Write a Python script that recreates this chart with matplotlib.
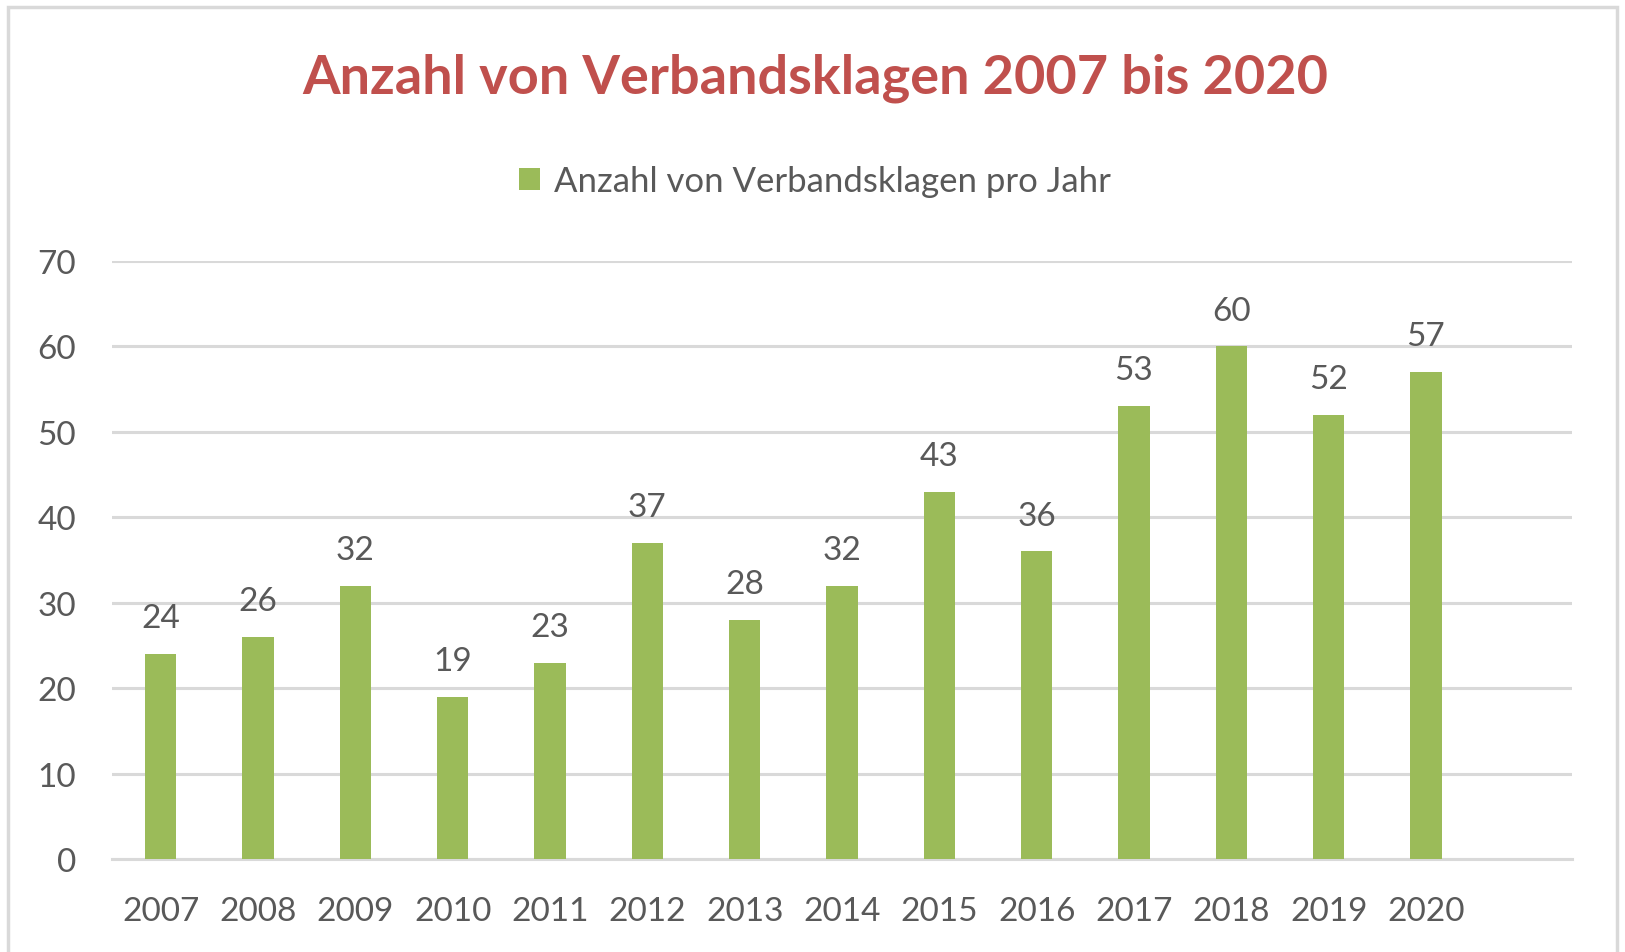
import matplotlib
matplotlib.use("Agg")
import matplotlib.pyplot as plt
from matplotlib.patches import Rectangle

# Data
years = ["2007", "2008", "2009", "2010", "2011", "2012", "2013",
         "2014", "2015", "2016", "2017", "2018", "2019", "2020"]
klagen = [24, 26, 32, 19, 23, 37, 28, 32, 43, 36, 53, 60, 52, 57]
y_ticks = [0, 10, 20, 30, 40, 50, 60, 70]

title = "Anzahl von Verbandsklagen 2007 bis 2020"
series_name = "Anzahl von Verbandsklagen pro Jahr"

GREEN = "#9BBB59"
RED = "#C0504D"
TEXT = "#595959"
GRID = "#D9D9D9"

plt.rcParams["font.family"] = ["Lato", "DejaVu Sans"]

fig = plt.figure(figsize=(16.25, 9.53), dpi=100)
W, H = 1625, 953

# outer chart frame
fig.add_artist(Rectangle((8 / W, -0.01), (1617 - 8) / W, 1.01 - 8 / H,
                         transform=fig.transFigure, fill=False,
                         edgecolor="#D9D9D9", linewidth=2.5))

ax = fig.add_axes([112 / W, 1 - 860 / H, (1572 - 112) / W, (860 - 262) / H])

x = list(range(len(years)))
bars = ax.bar(x, klagen, width=0.32, color=GREEN, zorder=3, label=series_name)

for xi, v in zip(x, klagen):
    ax.annotate(str(v), (xi, v), xytext=(0, 15), textcoords="offset points",
                ha="center", va="bottom", fontsize=24, color=TEXT)

ax.set_xlim(-0.5, len(years) + 0.5)
ax.set_ylim(0, 70)
ax.set_yticks(y_ticks)
ax.set_xticks(x)
ax.set_xticklabels(years)
ax.tick_params(axis="both", length=0, labelsize=24, labelcolor=TEXT)
ax.tick_params(axis="x", pad=27)
ax.tick_params(axis="y", pad=26)
ax.grid(axis="y", color=GRID, linewidth=2.2, zorder=0)
for s in ["top", "right", "left"]:
    ax.spines[s].set_visible(False)
ax.spines["bottom"].set_color(GRID)
ax.spines["bottom"].set_linewidth(2.2)

fig.text(815 / W, 1 - 78 / H, title, ha="center", va="center",
         fontsize=39, fontweight="bold", color=RED)

fig.legend(handles=[bars], labels=[series_name], loc="center",
           bbox_to_anchor=(815 / W, 1 - 182 / H), frameon=False,
           fontsize=25, labelcolor=TEXT, handlelength=0.6, handleheight=0.6,
           handletextpad=0.4)

fig.savefig("out.png", dpi=100, facecolor="white")
